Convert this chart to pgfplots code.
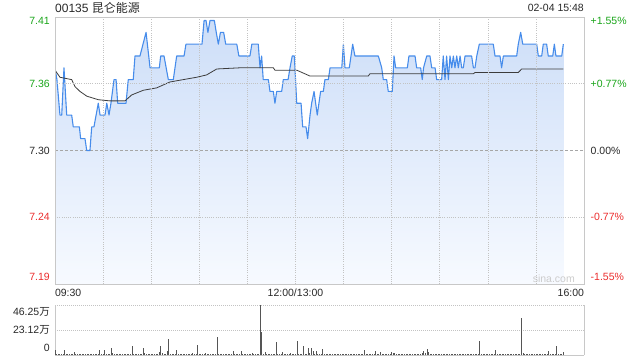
\documentclass[border=0pt]{standalone}
\usepackage{pgfplots}
\pgfplotsset{compat=1.18}
\usepackage{pgfplotstable}
\usepackage{fontspec}
\setmainfont{Liberation Sans}
\newfontfamily\cjk{Noto Sans CJK SC}

\definecolor{upgreen}{RGB}{25,165,25}
\definecolor{downred}{RGB}{235,45,45}
\definecolor{txt}{RGB}{40,40,40}
\definecolor{pline}{RGB}{70,140,235}
\definecolor{ftop}{RGB}{205,222,248}
\definecolor{fbot}{RGB}{247,250,255}
\definecolor{framec}{RGB}{200,200,200}
\definecolor{gridc}{RGB}{195,195,195}
\definecolor{avgc}{RGB}{60,60,60}
\definecolor{barc}{RGB}{85,85,85}

\pgfplotstableread{
m p
0 7.37
1.2 7.36
3.1 7.33
4.2 7.33
5.6 7.37
7.3 7.33
10.4 7.33
11.4 7.32
15.2 7.32
16.0 7.31
18.7 7.31
19.8 7.30
21.8 7.30
22.9 7.32
24.3 7.32
27.0 7.34
28.1 7.33
31.2 7.33
32.3 7.34
33.7 7.33
34.9 7.34
36.8 7.36
38.1 7.36
39.1 7.34
44.3 7.34
45.7 7.36
48.8 7.36
49.9 7.38
53.0 7.38
54.9 7.39
56.8 7.40
59.3 7.37
65.1 7.37
65.9 7.38
68.0 7.38
70.7 7.36
73.8 7.36
75.9 7.38
80.5 7.38
81.7 7.39
91.7 7.39
93.0 7.41
94.2 7.41
95.4 7.40
96.7 7.41
99.4 7.41
100.6 7.40
101.9 7.39
103.2 7.40
105.2 7.40
106.5 7.39
113.4 7.39
114.7 7.38
121.6 7.38
122.8 7.39
126.8 7.39
127.9 7.37
128.9 7.38
129.9 7.36
133.1 7.36
134.1 7.35
136.2 7.35
137.2 7.34
138.3 7.35
141.4 7.35
142.4 7.36
145.4 7.36
146.6 7.37
148.0 7.38
149.3 7.38
150.8 7.34
153.5 7.34
154.5 7.32
156.6 7.32
157.6 7.31
159.1 7.33
160.1 7.34
161.6 7.35
163.6 7.33
165.7 7.35
167.4 7.35
168.4 7.36
170.5 7.36
171.6 7.37
178.9 7.37
179.9 7.39
180.9 7.37
183.6 7.37
185.7 7.39
187.1 7.38
201.7 7.38
203.8 7.37
204.8 7.36
206.9 7.36
207.9 7.35
210.4 7.35
211.5 7.38
212.5 7.37
219.8 7.37
220.8 7.38
224.6 7.38
225.6 7.37
228.1 7.37
229.1 7.36
229.9 7.37
231.9 7.38
233.9 7.38
235.0 7.37
237.1 7.37
238.1 7.36
241.2 7.36
242.2 7.38
243.3 7.36
244.3 7.38
245.4 7.36
246.4 7.38
247.5 7.37
248.5 7.38
249.5 7.37
250.6 7.38
251.6 7.37
252.7 7.38
253.7 7.37
254.7 7.37
255.8 7.38
259.9 7.38
261.0 7.37
262.0 7.37
263.1 7.38
264.7 7.39
273.4 7.39
274.5 7.38
277.6 7.38
278.6 7.37
279.7 7.38
288.0 7.38
289.0 7.39
290.5 7.40
291.8 7.39
300.5 7.39
301.5 7.38
303.6 7.38
304.6 7.39
306.7 7.39
307.7 7.38
310.5 7.38
311.5 7.39
312.5 7.38
316.1 7.38
317.1 7.39
}\price

% same price path, closed down to the axis bottom (7.187) for the area fill
\pgfplotstableread{
m p
0 7.187
0 7.37
1.2 7.36
3.1 7.33
4.2 7.33
5.6 7.37
7.3 7.33
10.4 7.33
11.4 7.32
15.2 7.32
16.0 7.31
18.7 7.31
19.8 7.30
21.8 7.30
22.9 7.32
24.3 7.32
27.0 7.34
28.1 7.33
31.2 7.33
32.3 7.34
33.7 7.33
34.9 7.34
36.8 7.36
38.1 7.36
39.1 7.34
44.3 7.34
45.7 7.36
48.8 7.36
49.9 7.38
53.0 7.38
54.9 7.39
56.8 7.40
59.3 7.37
65.1 7.37
65.9 7.38
68.0 7.38
70.7 7.36
73.8 7.36
75.9 7.38
80.5 7.38
81.7 7.39
91.7 7.39
93.0 7.41
94.2 7.41
95.4 7.40
96.7 7.41
99.4 7.41
100.6 7.40
101.9 7.39
103.2 7.40
105.2 7.40
106.5 7.39
113.4 7.39
114.7 7.38
121.6 7.38
122.8 7.39
126.8 7.39
127.9 7.37
128.9 7.38
129.9 7.36
133.1 7.36
134.1 7.35
136.2 7.35
137.2 7.34
138.3 7.35
141.4 7.35
142.4 7.36
145.4 7.36
146.6 7.37
148.0 7.38
149.3 7.38
150.8 7.34
153.5 7.34
154.5 7.32
156.6 7.32
157.6 7.31
159.1 7.33
160.1 7.34
161.6 7.35
163.6 7.33
165.7 7.35
167.4 7.35
168.4 7.36
170.5 7.36
171.6 7.37
178.9 7.37
179.9 7.39
180.9 7.37
183.6 7.37
185.7 7.39
187.1 7.38
201.7 7.38
203.8 7.37
204.8 7.36
206.9 7.36
207.9 7.35
210.4 7.35
211.5 7.38
212.5 7.37
219.8 7.37
220.8 7.38
224.6 7.38
225.6 7.37
228.1 7.37
229.1 7.36
229.9 7.37
231.9 7.38
233.9 7.38
235.0 7.37
237.1 7.37
238.1 7.36
241.2 7.36
242.2 7.38
243.3 7.36
244.3 7.38
245.4 7.36
246.4 7.38
247.5 7.37
248.5 7.38
249.5 7.37
250.6 7.38
251.6 7.37
252.7 7.38
253.7 7.37
254.7 7.37
255.8 7.38
259.9 7.38
261.0 7.37
262.0 7.37
263.1 7.38
264.7 7.39
273.4 7.39
274.5 7.38
277.6 7.38
278.6 7.37
279.7 7.38
288.0 7.38
289.0 7.39
290.5 7.40
291.8 7.39
300.5 7.39
301.5 7.38
303.6 7.38
304.6 7.39
306.7 7.39
307.7 7.38
310.5 7.38
311.5 7.39
312.5 7.38
316.1 7.38
317.1 7.39
317.1 7.187
}\pricefill

\pgfplotstableread{
m p
0 7.368
3.1 7.362
10.4 7.360
12.5 7.354
15.6 7.350
19.8 7.346
27.0 7.343
34.3 7.342
43.7 7.342
47.8 7.347
55.1 7.351
63.4 7.353
71.7 7.358
80.0 7.360
88.4 7.362
94.6 7.364
100.9 7.369
115.4 7.370
136.2 7.370
137.2 7.368
150.8 7.368
159.1 7.363
195.4 7.363
196.5 7.365
261.0 7.365
262.0 7.366
289.0 7.366
291.1 7.369
317.1 7.369
}\avgp

\begin{document}
\begin{tikzpicture}
\path[use as bounding box] (0,0) rectangle (640pt,360pt);

\node[anchor=west, inner sep=0pt, font=\fontsize{12}{14}\selectfont, text=txt] at (55pt,352pt) {00135 {\cjk 昆仑能源}};
\node[anchor=east, inner sep=0pt, font=\fontsize{10.5}{12}\selectfont, text=txt] at (584pt,352pt) {02-04 15:48};

% main price axis
\begin{axis}[
  at={(55pt,76pt)}, anchor=south west, scale only axis,
  width=529pt, height=267pt,
  xmin=0, xmax=330, ymin=7.187, ymax=7.413,
  axis line style={framec},
  axis on top,
  major tick length=0pt, minor tick length=0pt,
  xtick={0,150,330},
  xticklabels={\makebox[0pt][l]{09:30}, 12:00/13:00, \makebox[0pt][r]{16:00}},
  xticklabel style={anchor=north, inner sep=0pt, yshift=-5pt},
  minor xtick={30,60,90,120,150,180,210,240,270,300},
  ytick={7.1929,7.2435,7.30,7.3565,7.4096},
  yticklabels={\textcolor{downred}{7.19},\textcolor{downred}{7.24},7.30,\textcolor{upgreen}{7.36},\textcolor{upgreen}{7.41}},
  yticklabel style={anchor=east, inner sep=0pt, xshift=-5pt},
  minor ytick={7.2435,7.3565},
  minor grid style={gridc, line width=0.6pt, dash pattern=on 0.6pt off 1.6pt},
  xminorgrids, yminorgrids,
  ticklabel style={font=\fontsize{10.5}{12}\selectfont, text=txt},
]
\addplot[draw=none, top color=ftop, bottom color=fbot] table[x=m, y=p] {\pricefill};
\addplot[gridc!85!black, dash pattern=on 3pt off 2pt, line width=0.6pt] coordinates {(0,7.30) (330,7.30)};
\addplot[pline, line width=1.1pt, line join=round] table[x=m, y=p] {\price};
\addplot[avgc, line width=0.8pt] table[x=m, y=p] {\avgp};
\node[anchor=base east, inner sep=0pt, text=gray!40, font=\fontsize{10.5}{12}\selectfont] at (rel axis cs:0.983,0.006) {sina.com};
\end{axis}

% right percent labels
\begin{axis}[
  at={(55pt,76pt)}, anchor=south west, scale only axis,
  width=529pt, height=267pt,
  xmin=0, xmax=330, ymin=7.187, ymax=7.413,
  axis x line=none, axis y line*=right, y axis line style={draw=none},
  major tick length=0pt,
  ytick={7.1929,7.2435,7.30,7.3565,7.4096},
  yticklabels={\textcolor{downred}{-1.55\%},\textcolor{downred}{-0.77\%},0.00\%,\textcolor{upgreen}{+0.77\%},\textcolor{upgreen}{+1.55\%}},
  yticklabel style={anchor=west, inner sep=0pt, xshift=6.5pt, font=\fontsize{10.5}{12}\selectfont, text=txt},
]
\addplot[draw=none] coordinates {(0,7.30) (330,7.30)};
\end{axis}

% volume axis
\begin{axis}[
  at={(55pt,5pt)}, anchor=south west, scale only axis,
  width=529pt, height=50pt,
  xmin=0, xmax=330, ymin=0, ymax=462.5,
  axis x line*=bottom, axis y line*=box,
  axis line style={framec},
  major tick length=0pt, minor tick length=0pt,
  xtick=\empty,
  ytick={64.75,231.25,397.75},
  yticklabels={0,23.12{\cjk 万},46.25{\cjk 万}},
  yticklabel style={anchor=east, inner sep=0pt, xshift=-5pt, font=\fontsize{10.5}{12}\selectfont, text=txt},
  minor ytick={231.25,462.5},
  minor grid style={gridc, line width=0.8pt, dash pattern=on 0.8pt off 1.2pt},
  yminorgrids,
]
\addplot[ycomb, draw=barc, line width=0.8pt] coordinates {
(0,50)(1,12)(2,8)(3,10)(4,6)(5,9)(6,50)(7,11)(8,8)(9,7)
(10,9)(11,12)(12,31)(13,10)(14,8)(15,13)(16,7)(17,9)(18,12)(19,6)
(20,10)(21,8)(22,7)(23,11)(24,9)(25,6)(26,8)(27,10)(28,50)(29,9)
(30,7)(31,50)(32,12)(33,10)(34,9)(35,62)(36,14)(37,8)(38,10)(39,7)
(40,9)(41,6)(42,8)(43,11)(44,7)(45,9)(46,10)(47,8)(48,81)(49,12)
(50,8)(51,10)(52,7)(53,9)(54,11)(55,69)(56,15)(57,9)(58,12)(59,7)
(60,8)(61,10)(62,6)(63,9)(64,12)(65,31)(66,81)(67,20)(68,9)(69,12)
(70,34)(71,144)(72,11)(73,9)(74,13)(75,8)(76,47)(77,10)(78,9)(79,7)
(80,12)(81,8)(82,10)(83,9)(84,7)(85,11)(86,14)(87,8)(88,10)(89,91)
(90,9)(91,12)(92,8)(93,10)(94,15)(95,9)(96,7)(97,11)(98,8)(99,10)
(100,9)(101,162)(102,8)(103,10)(104,7)(105,9)(106,12)(107,8)(108,10)(109,9)
(110,7)(111,41)(112,10)(113,8)(114,9)(115,12)(116,41)(117,10)(118,8)(119,9)
(120,7)(121,11)(122,9)(123,15)(124,8)(125,10)(126,9)(127,12)(128,462)(129,209)
(130,10)(131,31)(132,8)(133,12)(134,9)(135,7)(136,10)(137,11)(138,116)(139,9)
(140,8)(141,10)(142,31)(143,9)(144,7)(145,11)(146,8)(147,15)(148,10)(149,9)
(150,12)(151,125)(152,8)(153,10)(154,9)(155,87)(156,11)(157,9)(158,69)(159,14)
(160,62)(161,41)(162,10)(163,41)(164,9)(165,8)(166,12)(167,59)(168,10)(169,9)
(170,8)(171,11)(172,7)(173,10)(174,9)(175,12)(176,8)(177,10)(178,9)(179,11)
(180,7)(181,9)(182,12)(183,8)(184,10)(185,9)(186,11)(187,8)(188,10)(189,7)
(190,9)(191,11)(192,8)(193,50)(194,10)(195,9)(196,12)(197,8)(198,11)(199,9)
(200,41)(201,10)(202,8)(203,31)(204,9)(205,12)(206,8)(207,10)(208,7)(209,11)
(210,25)(211,20)(212,22)(213,9)(214,10)(215,8)(216,11)(217,7)(218,9)(219,10)
(220,8)(221,11)(222,9)(223,7)(224,10)(225,12)(226,8)(227,9)(228,11)(229,15)
(230,41)(231,20)(232,59)(233,30)(234,10)(235,8)(236,9)(237,11)(238,7)(239,10)
(240,9)(241,8)(242,10)(243,11)(244,7)(245,9)(246,10)(247,8)(248,9)(249,11)
(250,8)(251,10)(252,7)(253,9)(254,11)(255,8)(256,10)(257,9)(258,7)(259,10)
(260,11)(261,8)(262,9)(263,10)(264,7)(265,134)(266,9)(267,8)(268,10)(269,11)
(270,9)(271,10)(272,8)(273,11)(274,7)(275,50)(276,9)(277,10)(278,8)(279,12)
(280,9)(281,8)(282,10)(283,7)(284,11)(285,9)(286,8)(287,10)(288,9)(289,12)
(290,10)(291,344)(292,15)(293,9)(294,8)(295,11)(296,10)(297,9)(298,7)(299,8)
(300,10)(301,9)(302,11)(303,8)(304,12)(305,9)(306,10)(307,7)(308,41)(309,9)
(310,12)(311,8)(312,10)(313,81)(314,9)(315,11)(316,10)(317,31)
};
\end{axis}
\end{tikzpicture}
\end{document}
